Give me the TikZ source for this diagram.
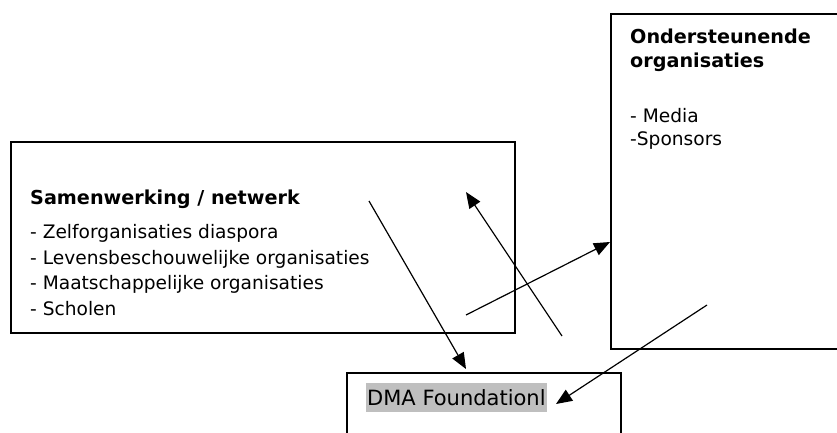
\documentclass[tikz,border=0pt]{standalone}
\usepackage{fontspec}
\setmainfont{DejaVu Sans}
\usetikzlibrary{arrows.meta, positioning}

\begin{document}
\begin{tikzpicture}[x=1pt,y=-1pt]
    \tikzset{
        box/.style = {rectangle, draw=black, line width=1.6pt, anchor=north west, inner sep=0pt},
        line/.style = {draw=black, line width=1.2pt, -{Triangle[length=16pt,width=13pt]}},
        txt/.style = {anchor=base west, inner sep=0pt, font=\fontsize{18.6}{22}\selectfont},
        head/.style = {anchor=base west, inner sep=0pt, font=\fontsize{19.2}{22}\selectfont\bfseries},
    }
    \clip (0,0) rectangle (837,433);

    \node[box, minimum width=504pt, minimum height=191pt](samen) at (10,141){};
    \node[box, minimum width=260pt, minimum height=335pt](steun) at (610,13){};
    \node[box, minimum width=274pt, minimum height=80pt](dma) at (346,372){};

    \node[head](samentitle) at (30,204){Samenwerking / netwerk};
    \node[txt](zelf) at (30,238){- Zelforganisaties diaspora};
    \node[txt](levens) at (30,264){- Levensbeschouwelijke organisaties};
    \node[txt](maat) at (30,289){- Maatschappelijke organisaties};
    \node[txt](scholen) at (30,315){- Scholen};

    \node[head](steuntitle) at (630,44){Ondersteunende};
    \node[head](steuntitle2) at (630,68){organisaties};
    \node[txt](media) at (630,122){- Media};
    \node[txt](sponsors) at (630,146){-Sponsors};

    \node[txt, font=\fontsize{21}{25}\selectfont, fill=black!25, inner xsep=1pt, text height=22pt, text depth=7pt](dmatext) at (366,405){DMA Foundationl};

    \coordinate (a1) at (369,201);
    \coordinate (a2) at (466,369);
    \coordinate (b1) at (562,336);
    \coordinate (b2) at (466,192);
    \coordinate (c1) at (466,315);
    \coordinate (c2) at (610,242);
    \coordinate (d1) at (707,305);
    \coordinate (d2) at (556,404);

    \path [line] (a1) -- (a2);
    \path [line] (b1) -- (b2);
    \path [line] (c1) -- (c2);
    \path [line] (d1) -- (d2);

\end{tikzpicture}
\end{document}
